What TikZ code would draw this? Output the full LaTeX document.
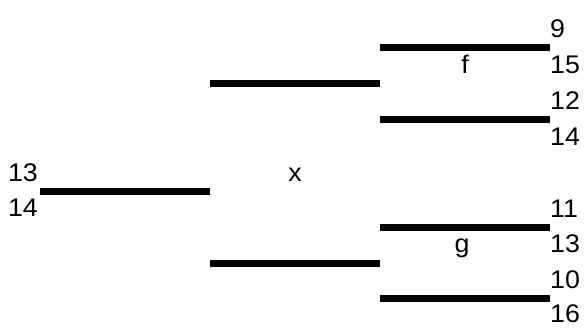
\documentclass[tikz,border=0pt]{standalone}
\usepackage{fontspec}
\setmainfont[FakeStretch=1.05]{Liberation Sans}
\begin{document}
\begin{tikzpicture}[x=1pt,y=-1pt,
  bar/.style={line width=7pt},
  num/.style={font=\fontsize{25.5}{30}\selectfont,inner sep=0pt}]
  \useasboundingbox (0,0) rectangle (588,327);
  \begin{scope}
    % bars of the tree
    \coordinate (a0) at (40,191);  \coordinate (a1) at (210,191);
    \coordinate (b0) at (210,83);  \coordinate (b1) at (380,83);
    \coordinate (c0) at (210,263); \coordinate (c1) at (380,263);
    \coordinate (d0) at (380,47);  \coordinate (d1) at (550,47);
    \coordinate (e0) at (380,119); \coordinate (e1) at (550,119);
    \coordinate (h0) at (380,227); \coordinate (h1) at (550,227);
    \coordinate (k0) at (380,298); \coordinate (k1) at (550,298);

    \draw[bar] (a0) -- (a1);
    \draw[bar] (b0) -- (b1);
    \draw[bar] (c0) -- (c1);
    \draw[bar] (d0) -- (d1);
    \draw[bar] (e0) -- (e1);
    \draw[bar] (h0) -- (h1);
    \draw[bar] (k0) -- (k1);

    \node[num,anchor=base east] (a13) at (38,181) {13};
    \node[num,anchor=base east] (a14) at (38,216) {14};

    \node[num,anchor=base west] (d9)  at (550,37)  {9};
    \node[num,anchor=base west] (d15) at (550,73)  {15};
    \node[num,anchor=base west] (e12) at (550,109) {12};
    \node[num,anchor=base west] (e14) at (550,145) {14};
    \node[num,anchor=base west] (h11) at (550,217) {11};
    \node[num,anchor=base west] (h13) at (550,252) {13};
    \node[num,anchor=base west] (k10) at (550,288) {10};
    \node[num,anchor=base west] (k16) at (550,322) {16};

    \node[num,anchor=base] (f) at (465,73)  {f};
    \node[num,anchor=base] (g) at (462,252) {g};
    \node[num,anchor=base] (x) at (295,181) {x};
  \end{scope}
\end{tikzpicture}
\end{document}
